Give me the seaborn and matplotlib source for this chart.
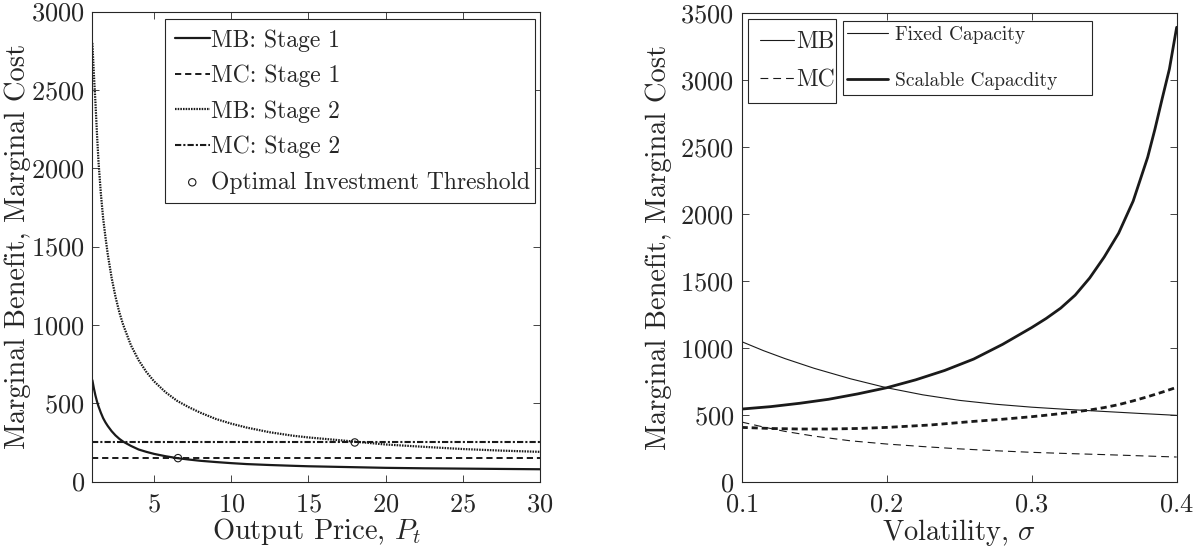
import numpy as np
import pandas as pd
import matplotlib
matplotlib.use("Agg")
import matplotlib.pyplot as plt
import seaborn as sns

# ---------------------------------------------------------------------------
# Data
# ---------------------------------------------------------------------------
# left panel: marginal benefit / cost vs output price
price        = [1, 1.1, 1.2, 1.3, 1.4, 1.55, 1.7, 1.85, 2, 2.25, 2.5, 2.75, 3, 3.5, 4, 4.5,
                5, 5.75, 6.5, 7.25, 8, 9, 10, 11, 12.5, 14, 15, 17.5, 20, 22.5, 25, 27.5, 30]
mb_stage1    = [648, 595, 550, 512, 480, 440, 405, 378, 355, 322, 295, 273, 255, 228, 205, 190,
                177, 162, 150, 141, 133, 125, 118, 112, 106, 101, 98, 93, 88, 85, 83, 81, 79]
mb_stage2    = [2800, 2600, 2420, 2220, 2040, 1840, 1680, 1560, 1450, 1300, 1180, 1080, 1000, 870, 775, 700,
                640, 570, 515, 475, 440, 400, 370, 345, 315, 293, 282, 260, 237, 222, 208, 198, 190]
mc_stage1    = 150
mc_stage2    = 250
thresh_price = [6.55, 18]
thresh_value = [150, 250]

# right panel: vs volatility
sigma_fix    = [0.10, 0.115, 0.13, 0.15, 0.175, 0.20, 0.225, 0.25, 0.275, 0.30, 0.325, 0.35, 0.375, 0.40]
mb_fixed     = [1045, 978, 918, 846, 768, 701, 648, 607, 578, 556, 539, 524, 509, 495]
mc_fixed     = [445, 408, 375, 340, 305, 281, 262, 245, 231, 219, 210, 202, 193, 184]
sigma_sc     = [0.10, 0.12, 0.14, 0.16, 0.18, 0.20, 0.22, 0.24, 0.26, 0.28, 0.30,
                0.31, 0.32, 0.33, 0.34, 0.35, 0.36, 0.37, 0.38, 0.385, 0.39, 0.395, 0.40]
mb_scalable  = [542, 560, 585, 615, 655, 701, 760, 830, 915, 1025, 1150,
                1218, 1295, 1392, 1520, 1676, 1855, 2094, 2421, 2630, 2858, 3080, 3391]
sigma_smc    = [0.10, 0.12, 0.14, 0.16, 0.18, 0.20, 0.23, 0.26, 0.28, 0.30,
                0.31, 0.32, 0.33, 0.34, 0.35, 0.36, 0.37, 0.38, 0.39, 0.40]
mc_scalable  = [405, 397, 393, 393, 397, 405, 423, 450, 466, 485,
                496, 508, 521, 535, 553, 575, 603, 634, 668, 704]

INK = "#262626"

sns.set_theme(style="ticks", rc={
    "xtick.direction": "in", "ytick.direction": "in",
    "xtick.top": True, "ytick.right": True,
    "xtick.major.size": 5, "ytick.major.size": 5,
    "xtick.major.width": 0.6, "ytick.major.width": 0.6,
    "axes.linewidth": 0.8, "axes.edgecolor": INK,
    "xtick.color": INK, "ytick.color": INK,
    "text.color": INK, "axes.labelcolor": INK,
})
plt.rcParams["font.family"] = ["cmr10", "DejaVu Serif"]
plt.rcParams["mathtext.fontset"] = "cm"
plt.rcParams["axes.formatter.use_mathtext"] = True

fig = plt.figure(figsize=(12.04, 5.46), dpi=100)
ax1 = fig.add_axes([0.0767, 0.1179, 0.3718, 0.8608])
ax2 = fig.add_axes([0.6160, 0.1178, 0.3613, 0.8590])


def style_axes(ax):
    ax.tick_params(axis="x", labelsize=19, pad=8)
    ax.tick_params(axis="y", labelsize=19, pad=5.5)


# ---------------------------------------------------------------------------
# Left panel
# ---------------------------------------------------------------------------
sns.lineplot(x=price, y=mb_stage1, ax=ax1, color="k", lw=1.6, linestyle="-")
sns.lineplot(x=price, y=[mc_stage1] * len(price), ax=ax1, color="k", lw=1.4,
             linestyle=(0, (3.2, 2.0)))
sns.lineplot(x=price, y=mb_stage2, ax=ax1, color="k", lw=1.6, linestyle=(0, (0.7, 0.5)))
sns.lineplot(x=price, y=[mc_stage2] * len(price), ax=ax1, color="k", lw=1.5,
             linestyle=(0, (3.0, 1.0, 1.0, 1.0)))
sns.scatterplot(x=thresh_price, y=thresh_value, ax=ax1, marker="o", s=28,
                facecolors="none", edgecolor="k", linewidth=0.8, zorder=5)
ax1.collections[-1].set_facecolor("none")

ax1.set_xlim(1, 30)
ax1.set_ylim(0, 3000)
ax1.set_xticks([5, 10, 15, 20, 25, 30])
ax1.set_yticks(range(0, 3001, 500))
style_axes(ax1)
ax1.set_xlabel("Output Price, $P_t$", fontsize=20.5, labelpad=0)
ax1.set_ylabel("Marginal Benefit, Marginal Cost", fontsize=20.5, labelpad=0)

h = ax1.get_lines()[:4] + [ax1.collections[-1]]
lab = ["MB: Stage 1", "MC: Stage 1", "MB: Stage 2", "MC: Stage 2",
       "Optimal Investment Threshold"]
leg = ax1.legend(h, lab, loc="upper left", bbox_to_anchor=(0.162, 0.0, 0.827, 0.984),
                 mode="expand", borderaxespad=0, fontsize=17, handlelength=1.48,
                 handletextpad=0.07, labelspacing=0.55, borderpad=0.42, fancybox=False,
                 framealpha=1, edgecolor=INK, scatterpoints=1)
leg.get_frame().set_linewidth(0.8)

# ---------------------------------------------------------------------------
# Right panel
# ---------------------------------------------------------------------------
sns.lineplot(x=sigma_fix, y=mb_fixed, ax=ax2, color="k", lw=0.8, linestyle="-")
sns.lineplot(x=sigma_fix, y=mc_fixed, ax=ax2, color="k", lw=0.8, linestyle=(0, (7, 4.5)))
sns.lineplot(x=sigma_sc, y=mb_scalable, ax=ax2, color="k", lw=2.0, linestyle="-")
sns.lineplot(x=sigma_smc, y=mc_scalable, ax=ax2, color="k", lw=2.0, linestyle=(0, (2.2, 1.4)))

ax2.set_xlim(0.1, 0.4)
ax2.set_ylim(0, 3500)
ax2.set_xticks([0.1, 0.2, 0.3, 0.4])
ax2.set_yticks(range(0, 3501, 500))
style_axes(ax2)
ax2.set_xlabel("Volatility, $\\sigma$", fontsize=20.5, labelpad=0)
ax2.set_ylabel("Marginal Benefit, Marginal Cost", fontsize=20.5, labelpad=6)

lines = ax2.get_lines()
leg_a = ax2.legend([lines[0], lines[1]], ["MB", "MC"], loc="upper left",
                   bbox_to_anchor=(0.015, 0.0, 0.202, 0.986), mode="expand",
                   borderaxespad=0, fontsize=17, handlelength=1.45, handletextpad=0.08,
                   labelspacing=0.69, borderpad=0.5, fancybox=False, framealpha=1,
                   edgecolor=INK)
leg_a.get_frame().set_linewidth(0.8)
ax2.add_artist(leg_a)
leg_b = ax2.legend([lines[0], lines[2]], ["Fixed Capacity", "Scalable Capacdity"],
                   loc="upper left", bbox_to_anchor=(0.232, 0.0, 0.574, 0.983), mode="expand",
                   borderaxespad=0, fontsize=14, handlelength=2.06, handletextpad=0.4,
                   labelspacing=1.46, borderpad=0.25, fancybox=False, framealpha=1,
                   edgecolor=INK)
leg_b.get_frame().set_linewidth(0.8)

fig.savefig("out.png", dpi=100)
